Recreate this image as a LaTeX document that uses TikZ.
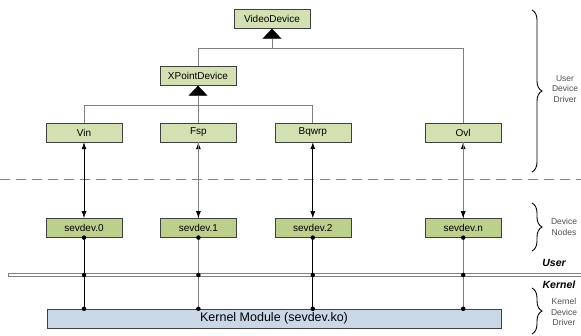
\documentclass[tikz,border=0pt]{standalone}
\usepackage{fontspec}
\setmainfont{Liberation Sans}
\usetikzlibrary{arrows.meta,positioning,decorations.pathreplacing}
\definecolor{boxgreen}{HTML}{D3E0B2}
\definecolor{nodegreen}{HTML}{BCD08C}
\definecolor{kernblue}{HTML}{CAD7E7}
\definecolor{linegray}{HTML}{808080}
\tikzset{
  classbox/.style={draw=black!75, fill=boxgreen, minimum width=76pt, minimum height=19pt, inner sep=0pt, font=\fontsize{10}{12}\selectfont},
  devbox/.style={classbox, fill=nodegreen},
  inherit/.style={{Triangle[width=19pt,length=10pt,color=black]}-, linegray, line width=0.8pt},
  ioarrow/.style={{Latex[length=7pt,width=5pt]}-{Latex[length=7pt,width=5pt]}, line width=0.8pt},
  sidebrace/.style={decorate, decoration={brace, amplitude=10pt}, line width=0.9pt},
  sidetext/.style={align=center, text=black!70, font=\fontsize{8.5}{10.5}\selectfont},
  layertext/.style={font=\fontsize{10.5}{12}\selectfont\bfseries\itshape},
  joint/.style={circle, fill=black, inner sep=0pt, minimum size=4.5pt}
}
\begin{document}
\begin{tikzpicture}[x=1pt, y=-1pt]
  \useasboundingbox (0,0) rectangle (581,335);

    \node [classbox] (vd) at (272,19) {VideoDevice};
    \node [classbox] (xpd) at (198,76) {XPointDevice};

    \node [classbox] (vin) at (84,132.5) {Vin};
    \node [classbox, right=38pt of vin] (fsp) {Fsp};
    \node [classbox, right=38pt of fsp] (bqwrp) {Bqwrp};
    \node [classbox, right=74pt of bqwrp] (ovl) {Ovl};

    \node [devbox, below=76pt of vin] (s0) {sevdev.0};
    \node [devbox, below=76pt of fsp] (s1) {sevdev.1};
    \node [devbox, below=76pt of bqwrp] (s2) {sevdev.2};
    \node [devbox, below=76pt of ovl] (sn) {sevdev.n};

    \node [draw=black!75, fill=kernblue, minimum width=454pt, minimum height=19pt, inner sep=0pt,
           font=\fontsize{12.5}{14}\selectfont] (km) at (274,318.5) {Kernel Module (sevdev.ko)};

    \draw [inherit] (vd.south) -- ++(0,20) coordinate (j1);
    \draw [linegray, line width=0.8pt] (xpd.north) |- (ovl.north |- j1) -- (ovl.north);
    \draw [inherit] (xpd.south) -- ++(0,20) coordinate (j2);
    \draw [linegray, line width=0.8pt] (vin.north) |- (bqwrp.north |- j2) -- (bqwrp.north);
    \draw [linegray, line width=0.8pt] (fsp.north) -- (fsp.north |- j2);

    \coordinate (dl) at (0,179);
    \coordinate (dr) at (581,179);
    \draw [linegray, line width=1pt, dash pattern=on 10pt off 6pt] (dl) -- (dr);

    \draw [ioarrow] (vin) -- (s0);
    \draw [ioarrow, linegray, -{Latex[length=7pt,width=5pt,color=black]}] (s1) -- (fsp);
    \draw [ioarrow, linegray, {Latex[length=7pt,width=5pt,color=black]}-] (s1) -- (fsp);
    \draw [ioarrow] (bqwrp) -- (s2);
    \draw [ioarrow, linegray, -{Latex[length=7pt,width=5pt,color=black]}] (sn) -- (ovl);
    \draw [ioarrow, linegray, {Latex[length=7pt,width=5pt,color=black]}-] (sn) -- (ovl);

    \coordinate (bl) at (8,275);
    \coordinate (br) at (581,275);
    \draw [linegray, line width=3.6pt] (bl) -- (br);
    \draw [white, line width=1.4pt] ([xshift=0.8pt]bl) -- (br);

    \foreach \s/\c in {s0/black, s1/linegray, s2/black, sn/linegray} {
      \draw [\c, line width=0.8pt] (\s.south) -- (\s.south |- km.north);
      \node [joint] (\s-a) at (\s.south) {};
      \node [joint] (\s-b) at (\s.south |- bl) {};
      \node [joint] (\s-c) at (\s.south |- km.north) {};
    }

    \node [layertext] (user) at (554,263) {User};
    \node [layertext] (kernel) at (559,285) {Kernel};

    \draw [sidebrace] (532,10) -- (532,172);
    \node [sidetext] (udd) at (565,89) {User\\Device\\Driver};
    \draw [sidebrace] (532,203) -- (532,251);
    \node [sidetext] (dn) at (564,227) {Device\\Nodes};
    \draw [sidebrace] (532,288) -- (532,334);
    \node [sidetext] (kdd) at (564,312) {Kernel\\Device\\Driver};
\end{tikzpicture}
\end{document}
